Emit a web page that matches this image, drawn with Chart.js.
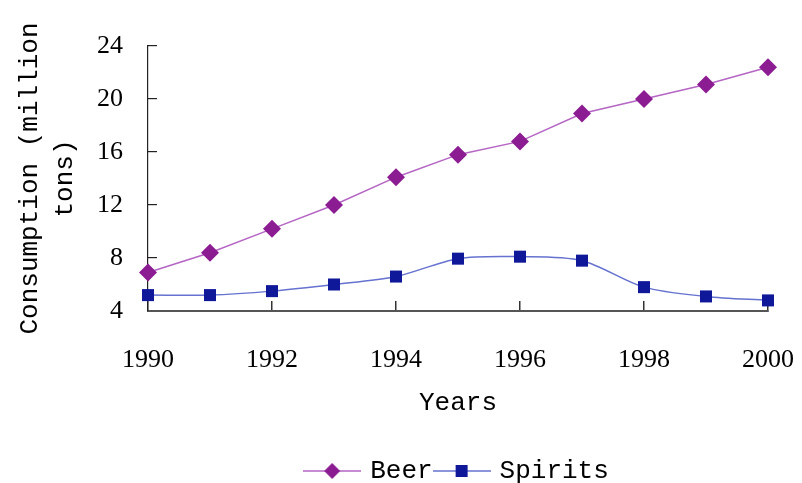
<!DOCTYPE html>
<html>
<head>
<meta charset="utf-8">
<script src="https://cdn.jsdelivr.net/npm/chart.js@4"></script>
<style>
    html, body { margin: 0; padding: 0; background: #fff; }
    #wrap { width: 802px; height: 483px; }
</style>
</head>
<body>
<div id="wrap"><canvas id="chart1" width="802" height="483"></canvas></div>
<script>
// Data
const years = [1990, 1991, 1992, 1993, 1994, 1995, 1996, 1997, 1998, 1999, 2000];
const beer = [6.9, 8.4, 10.2, 12.0, 14.1, 15.8, 16.8, 18.9, 20.0, 21.1, 22.4];
const spirits = [5.2, 5.2, 5.5, 6.0, 6.6, 7.95, 8.1, 7.8, 5.8, 5.1, 4.8];
const yTicks = [4, 8, 12, 16, 20, 24];
const xTicks = [1990, 1992, 1994, 1996, 1998, 2000];

const beerColor = '#8b1c92';
const beerLine = '#b565c4';
const spiritsColor = '#10189a';
const spiritsLine = '#6672cf';

const titleFont = { family: "'Liberation Mono', monospace", size: 26 };
const tickFont = { family: "'Liberation Serif', serif", size: 26 };

// small legend icons: line with the marker on it
const makeIcon = (lineColor, markColor, shape) => {
    const c = document.createElement('canvas');
    c.width = 58;
    c.height = 20;
    const g = c.getContext('2d');
    g.strokeStyle = lineColor;
    g.lineWidth = 1.5;
    g.beginPath();
    g.moveTo(0, 10);
    g.lineTo(58, 10);
    g.stroke();
    g.fillStyle = markColor;
    g.beginPath();
    if (shape === 'diamond') {
        g.moveTo(29, 2); g.lineTo(37, 10); g.lineTo(29, 18); g.lineTo(21, 10);
    } else {
        g.rect(23, 4, 12, 12);
    }
    g.closePath();
    g.fill();
    return c;
};
const legendIcons = [
    makeIcon(beerLine, beerColor, 'diamond'),
    makeIcon(spiritsLine, spiritsColor, 'square')
];

const ctx1 = document.getElementById('chart1').getContext('2d');
const chart1Instance = new Chart(ctx1, {
    type: 'line',
    data: {
        datasets: [
            {
                label: 'Beer',
                data: years.map((x, i) => ({ x: x, y: beer[i] })),
                borderColor: beerLine,
                borderWidth: 1.5,
                pointStyle: 'rectRot',
                pointRadius: 9,
                pointBackgroundColor: beerColor,
                pointBorderColor: beerColor,
                pointBorderWidth: 0,
                tension: 0,
                clip: false
            },
            {
                label: 'Spirits',
                data: years.map((x, i) => ({ x: x, y: spirits[i] })),
                borderColor: spiritsLine,
                borderWidth: 1.5,
                pointStyle: 'rect',
                pointRadius: 8.5,
                pointBackgroundColor: spiritsColor,
                pointBorderColor: spiritsColor,
                pointBorderWidth: 0,
                tension: 0.3,
                clip: false
            }
        ]
    },
    options: {
        responsive: false,
        animation: false,
        // left/right padding only centre the legend under the plot
        layout: { padding: { top: 46, right: -26, left: 88, bottom: -11 } },
        plugins: {
            tooltip: { enabled: false },
            legend: {
                position: 'bottom',
                labels: {
                    usePointStyle: true,
                    pointStyleWidth: 50,
                    color: '#000',
                    font: titleFont,
                    padding: 4,
                    generateLabels: chart => Chart.defaults.plugins.legend.labels.generateLabels(chart)
                        .map((item, i) => ({ ...item, pointStyle: legendIcons[i] }))
                }
            }
        },
        scales: {
            x: {
                type: 'linear',
                min: 1990,
                max: 2000,
                afterFit: scale => {
                    scale.height = 143;
                    scale.paddingLeft = 0;
                    scale.paddingRight = 34;
                },
                afterBuildTicks: scale => { scale.ticks = xTicks.map(v => ({ value: v })); },
                ticks: {
                    color: '#000',
                    font: tickFont,
                    padding: 44,
                    maxRotation: 0,
                    callback: v => String(v)
                },
                grid: { drawOnChartArea: false, tickLength: -10, color: '#333', lineWidth: 1.5 },
                border: { color: '#555', width: 2 },
                title: { display: true, text: 'Years', color: '#000', font: titleFont, padding: { top: 0, bottom: 35 } }
            },
            y: {
                min: 4,
                max: 24,
                afterFit: scale => {
                    scale.width = 60;
                    scale.paddingTop = 0;
                    scale.paddingBottom = 0;
                },
                afterBuildTicks: scale => { scale.ticks = yTicks.map(v => ({ value: v })); },
                ticks: { color: '#000', font: tickFont, padding: 34 },
                grid: { drawOnChartArea: false, tickLength: -9, color: '#222', lineWidth: 1.2 },
                border: { color: '#222', width: 1.2 },
                title: {
                    display: true,
                    text: ['Consumption (million', 'tons)'],
                    color: '#000',
                    font: { ...titleFont, lineHeight: 1.35 },
                    padding: { top: -75.5, bottom: 0 }
                }
            }
        }
    }
});
</script>
</body>
</html>
